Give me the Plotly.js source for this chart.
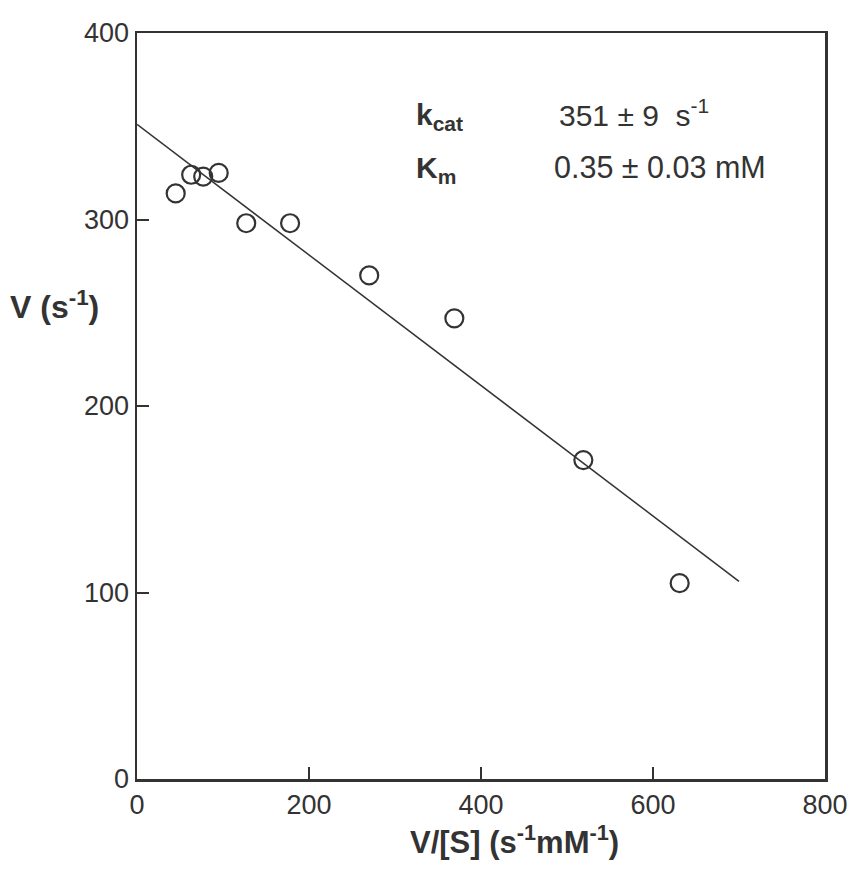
<!DOCTYPE html>
<html><head><meta charset="utf-8">
<script src="https://cdn.plot.ly/plotly-3.0.1.min.js"></script>
<style>html,body{margin:0;padding:0;background:#fff}</style>
</head><body>
<div id="plot" style="width:857px;height:871px"></div>
<script>
// Data
const vOverS = [45, 63, 77, 95, 127, 178, 270, 369, 519, 631];   // V/[S] (s^-1 mM^-1)
const vRate  = [314, 324, 323, 325, 298, 298, 270, 247, 171, 105]; // V (s^-1)
// Fitted line
const fitX = [0, 700];
const fitY = [351, 106];
// Tick values
const xTicks = [0, 200, 400, 600, 800];
const yTicks = [0, 100, 200, 300, 400];

const ink = '#333333';
const font = 'Liberation Sans, Arial, sans-serif';

const traces = [
  {x: fitX, y: fitY, mode: 'lines', line: {color: ink, width: 1.5}, hoverinfo: 'skip'},
  {x: vOverS, y: vRate, mode: 'markers',
   marker: {symbol: 'circle-open', size: 18, color: ink, line: {width: 2.2, color: ink}}}
];

const axisCommon = {
  showline: true, mirror: true, linecolor: ink, linewidth: 2.5,
  ticks: 'inside', ticklen: 12, tickwidth: 2, tickcolor: ink,
  showgrid: false, zeroline: false,
  tickfont: {family: font, size: 27, color: ink}
};

const layout = {
  width: 857, height: 871,
  margin: {l: 137, r: 32, t: 33, b: 92},
  paper_bgcolor: '#fff', plot_bgcolor: '#fff',
  showlegend: false,
  xaxis: Object.assign({}, axisCommon, {range: [0, 800], tickvals: xTicks, ticktext: xTicks.map(String), ticklabelstandoff: 0}),
  yaxis: Object.assign({}, axisCommon, {range: [0, 400], tickvals: yTicks, ticktext: yTicks.map(String)}),
  annotations: [
    {xref: 'paper', yref: 'paper', x: 0.549, y: -0.052, xanchor: 'center', yanchor: 'top', showarrow: false,
     text: '<b>V/[S] (s<sup>-1</sup>mM<sup>-1</sup>)</b>', font: {family: font, size: 31, color: ink}},
    {xref: 'paper', yref: 'y', x: -0.188, y: 254, xanchor: 'left', yanchor: 'middle', showarrow: false,
     text: '<b>V (s<sup>-1</sup>)</b>', font: {family: font, size: 32, color: ink}},
    {xref: 'x', yref: 'y', x: 322, y: 355, xanchor: 'left', yanchor: 'middle', showarrow: false,
     text: '<b>k<sub>cat</sub></b>', font: {family: font, size: 30, color: ink}},
    {xref: 'x', yref: 'y', x: 322, y: 327, xanchor: 'left', yanchor: 'middle', showarrow: false,
     text: '<b>K<sub>m</sub></b>', font: {family: font, size: 30, color: ink}},
    {xref: 'x', yref: 'y', x: 488, y: 357, xanchor: 'left', yanchor: 'middle', showarrow: false,
     text: '351 ± 9  s<sup>-1</sup>', font: {family: font, size: 30, color: ink}},
    {xref: 'x', yref: 'y', x: 483, y: 328, xanchor: 'left', yanchor: 'middle', showarrow: false,
     text: '0.35 ± 0.03 mM', font: {family: font, size: 30.5, color: ink}}
  ]
};

Plotly.newPlot('plot', traces, layout, {displayModeBar: false, staticPlot: true});
</script>
</body></html>
